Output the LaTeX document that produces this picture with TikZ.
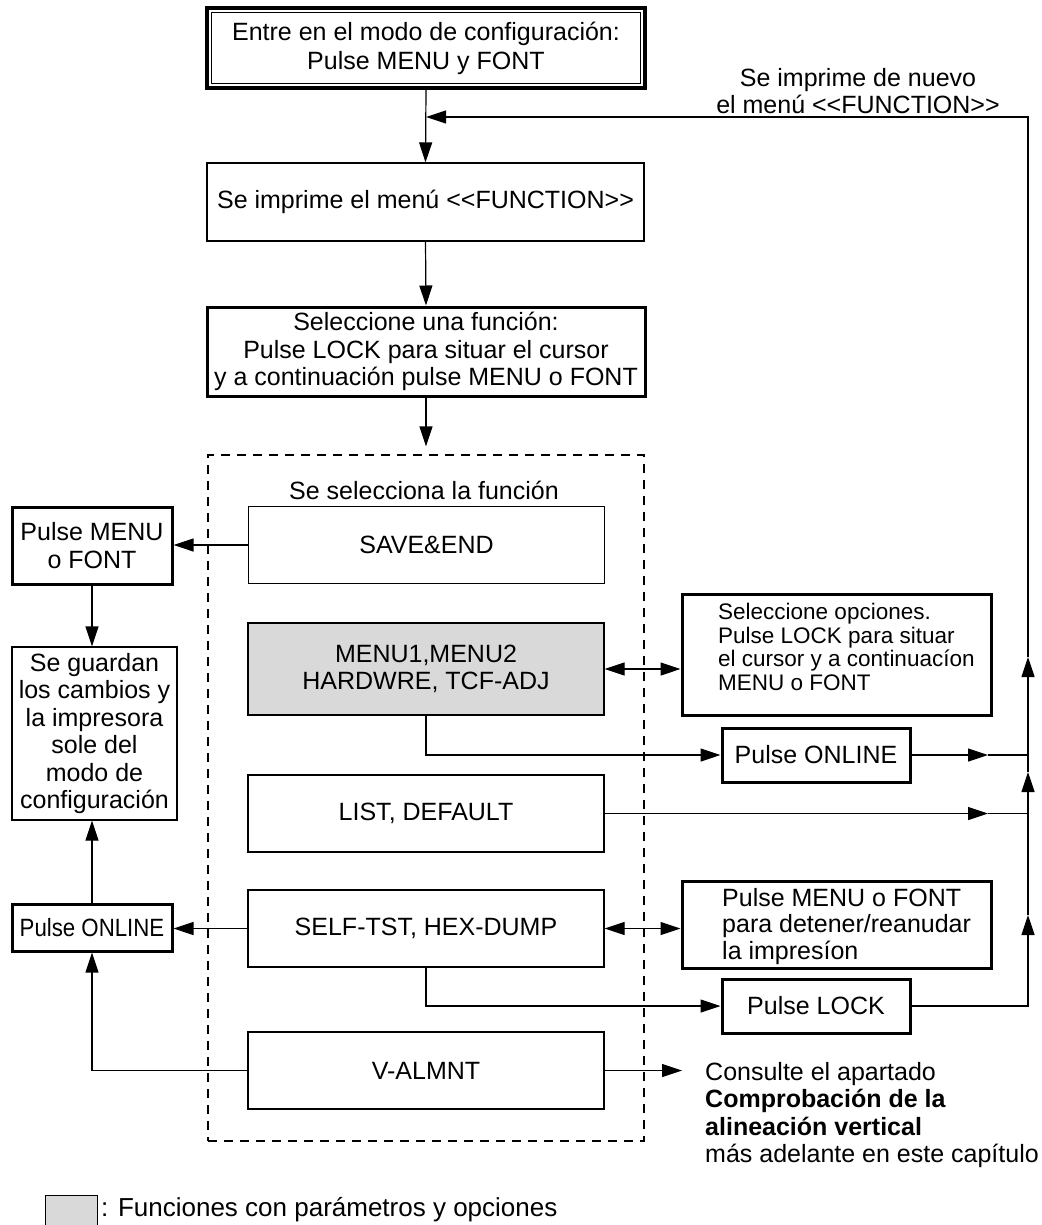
\documentclass[tikz,border=0pt]{standalone}
\usepackage{fontspec}
\setmainfont{Liberation Sans}
\usepackage{graphicx}
\usetikzlibrary{arrows.meta}
\begin{document}
\begin{tikzpicture}[x=1pt,y=-1pt,
  every node/.style={font=\fontsize{25}{27.5}\selectfont, inner sep=0pt},
  thinbox/.style={draw, line width=1.2pt, align=center},
  thickbox/.style={draw, line width=3pt, align=center},
  conn/.style={line width=1.2pt},
  arr/.style={conn, -{Triangle[length=20pt,width=13pt]}},
  darr/.style={conn, {Triangle[length=20pt,width=13pt]}-{Triangle[length=20pt,width=13pt]}},
  fnbox/.style={thinbox, minimum width=356pt, minimum height=77pt},
]
\useasboundingbox (0,0) rectangle (1041,1225);

% main column
\node[thickbox, line width=3.5pt, minimum width=438pt, minimum height=80pt, font=\fontsize{25}{29}\selectfont] (top) at (426,48)
  {Entre en el modo de configuración:\\Pulse MENU y FONT};
\draw[line width=1pt] ([shift={(6,6)}]top.north west) rectangle ([shift={(-6,-6)}]top.south east);
\node[thinbox, minimum width=437pt, minimum height=78pt] (func) at (425.5,202)
  {Se imprime el menú <\kern0pt<FUNCTION>\kern0pt>};
\node[thickbox, minimum width=438pt, minimum height=89pt] (sel) at (426,351.5)
  {Seleccione una función:\\Pulse LOCK para situar el cursor\\y a continuación pulse MENU o FONT};
\node[draw, line width=1.2pt, dash pattern=on 9pt off 7pt, minimum width=436pt, minimum height=686pt] (grp) at (426,798) {};
\node (grplabel) at (424,490) {Se selecciona la función};
\node[fnbox] (save) at (426.5,545) {SAVE\&END};
\node[fnbox, fill=gray!30, minimum height=92pt] (menu) at (426,669) {MENU1,MENU2\\HARDWRE, TCF-ADJ};
\node[fnbox] (list) at (426,813.5) {LIST, DEFAULT};
\node[fnbox] (self) at (426,928.5) {SELF-TST, HEX-DUMP};
\node[fnbox] (valm) at (426,1070.5) {V-ALMNT};

% left column
\node[thickbox, minimum width=160pt, minimum height=77pt] (pmf) at (92,545.5) {Pulse MENU\\o FONT};
\node[thinbox, minimum width=165pt, minimum height=173pt] (saved) at (94.5,733.5)
  {Se guardan\\los cambios y\\la impresora\\sole del\\modo de\\configuración};
\node[thickbox, minimum width=160pt, minimum height=47pt] (ponl) at (92,927.5) {\scalebox{0.89}[1]{Pulse ONLINE}};

% right column
\node[thickbox, minimum width=309pt, minimum height=121pt] (opts) at (836.5,654.5) {};
\node[anchor=west, align=left, font=\fontsize{22.5}{23.5}\selectfont] (optstext) at (718,647)
  {Seleccione opciones.\\Pulse LOCK para situar\\el cursor y a continuacíon\\MENU o FONT};
\node[thickbox, minimum width=188pt, minimum height=54pt] (ponr) at (816,755) {Pulse ONLINE};
\node[thickbox, minimum width=309pt, minimum height=87pt] (det) at (836.5,924.5) {};
\node[anchor=west, align=left, font=\fontsize{25}{26.5}\selectfont] (dettext) at (722,926.5)
  {Pulse MENU o FONT\\para detener/reanudar\\la impresíon};
\node[thickbox, minimum width=188pt, minimum height=54pt] (plock) at (816,1006) {Pulse LOCK};
\node[anchor=north west, align=left] (cons) at (705,1062)
  {Consulte el apartado\\\textbf{Comprobación de la}\\\textbf{alineación vertical}\\más adelante en este capítulo};
\node[align=center] (again) at (858,91) {Se imprime de nuevo\\el menú <\kern0pt<FUNCTION>\kern0pt>};

% legend
\node[draw, line width=1.2pt, fill=gray!30, minimum width=52pt, minimum height=32pt, anchor=north west] (legbox) at (45,1195) {};
\node[anchor=west, font=\fontsize{26}{28}\selectfont] (legtext) at (101,1210) {: Funciones con parámetros y opciones};

% coordinates
\coordinate (r1) at (1028,915);
\coordinate (r2) at (1028,772);
\coordinate (r3) at (1028,657);
\coordinate (rtop) at (1028,117);
\coordinate (jn) at (top.south |- rtop);
\coordinate (a1) at (988,755);
\coordinate (a2) at (988,813.5);
\coordinate (a3) at (682,1070.5);

% connectors
\draw[arr] (top.south) -- (func.north);
\draw[arr] (func.south) -- (sel.north);
\draw[arr, shorten >=8pt] (sel.south) -- (grp.north);
\draw[arr] (save.west) -- (save.west -| pmf.east);
\draw[arr] (pmf.south) -- (saved.north -| pmf.south);
\draw[arr] (ponl.north) -- (saved.south -| ponl.north);
\draw[darr] (menu.east) -- (menu.east -| opts.west);
\draw[arr] (menu.south) |- (ponr.west);
\draw[arr] (ponr.east) -- (a1);
\draw[conn] (a1) -- (a1 -| r1);
\draw[arr] (list.east) -- (a2);
\draw[conn] (a2) -- (a2 -| r1);
\draw[arr] (self.west) -- (self.west -| ponl.east);
\draw[darr] (self.east) -- (self.east -| det.west);
\draw[arr] (self.south) |- (plock.west);
\draw[arr] (valm.west) -| (ponl.south);
\draw[arr] (valm.east) -- (a3);
\draw[arr] (plock.east) -| (r1);
\draw[arr] (r1) -- (r2);
\draw[arr] (r2) -- (r3);
\draw[arr] (r3) -- (rtop) -- (jn);
\end{tikzpicture}
\end{document}
